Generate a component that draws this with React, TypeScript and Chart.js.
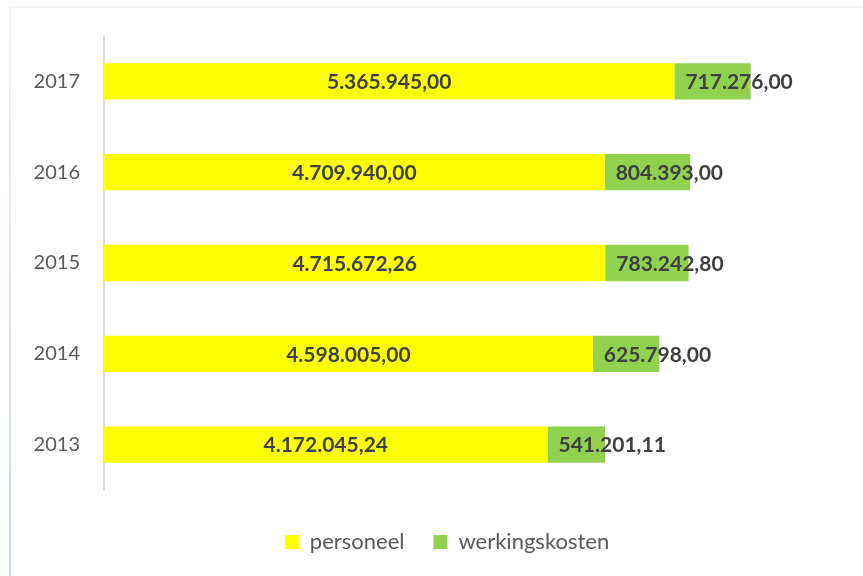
import React, { useEffect, useRef } from 'react';
import { Chart, registerables } from 'chart.js';

Chart.register(...registerables);

const years = ['2017', '2016', '2015', '2014', '2013'];
const personeel = [5365945.0, 4709940.0, 4715672.26, 4598005.0, 4172045.24];
const werkingskosten = [717276.0, 804393.0, 783242.8, 625798.0, 541201.11];
const seriesNames = ['personeel', 'werkingskosten'];
const xMax = 7140000;

const FONT = 'Lato, "Open Sans", sans-serif';

function fmt(v: number): string {
  const [i, d] = v.toFixed(2).split('.');
  return i.replace(/\B(?=(\d{3})+(?!\d))/g, '.') + ',' + d;
}

const labelPlugin = {
  id: 'barLabels',
  afterDatasetsDraw(chart: any) {
    const ctx = chart.ctx;
    ctx.save();
    ctx.font = `bold 21px ${FONT}`;
    ctx.fillStyle = '#404040';
    ctx.textBaseline = 'middle';
    chart.data.datasets.forEach((ds: any, di: number) => {
      const meta = chart.getDatasetMeta(di);
      meta.data.forEach((bar: any, i: number) => {
        const { x, y, base } = bar.getProps(['x', 'y', 'base'], true);
        const text = fmt(ds.data[i]);
        if (di === 0) {
          ctx.textAlign = 'center';
          ctx.fillText(text, (x + base) / 2, y + 1);
        } else {
          ctx.textAlign = 'left';
          ctx.fillText(text, base + 11, y + 1);
        }
      });
    });
    ctx.restore();
  },
};

export default function App() {
  const ref = useRef<HTMLCanvasElement | null>(null);

  useEffect(() => {
    document.body.style.margin = '0';
    const chart = new Chart(ref.current as HTMLCanvasElement, {
      type: 'bar',
      data: {
        labels: years,
        datasets: [
          {
            label: seriesNames[0],
            data: personeel,
            backgroundColor: '#FFFF00',
            borderWidth: 0,
            barPercentage: 0.4,
            categoryPercentage: 1,
          },
          {
            label: seriesNames[1],
            data: werkingskosten,
            backgroundColor: '#92D050',
            borderWidth: 0,
            barPercentage: 0.4,
            categoryPercentage: 1,
          },
        ],
      },
      options: {
        indexAxis: 'y',
        animation: false,
        responsive: false,
        maintainAspectRatio: false,
        layout: { padding: { top: 36, left: 31, right: 0, bottom: 13 } },
        scales: {
          x: {
            stacked: true,
            min: 0,
            max: xMax,
            display: true,
            grid: { display: false },
            border: { display: false },
            ticks: { display: false },
            afterFit: (s: any) => {
              s.height = 12;
            },
          },
          y: {
            stacked: true,
            grid: { display: false },
            border: { display: true, color: '#d9d9d9', width: 2 },
            ticks: {
              color: '#595959',
              font: { family: FONT, size: 20 },
              padding: 16,
            },
            afterFit: (s: any) => {
              s.width = 73;
            },
          },
        },
        plugins: {
          tooltip: { enabled: false },
          legend: {
            position: 'bottom',
            labels: {
              boxWidth: 14,
              boxHeight: 14,
              padding: 29,
              color: '#595959',
              font: { family: FONT, size: 22 },
            },
          },
        },
      },
      plugins: [labelPlugin],
    });
    return () => chart.destroy();
  }, []);

  return (
    <div style={{ position: 'fixed', left: 0, top: 0, width: 863, height: 576, background: '#fff' }}>
      <div
        style={{
          position: 'absolute',
          left: 9,
          top: 6,
          right: 0,
          height: 2,
          background: '#f3f3fa',
        }}
      />
      <div
        style={{
          position: 'absolute',
          left: 9,
          top: 6,
          width: 2,
          bottom: 0,
          background: 'linear-gradient(#f3f3fa, #c6d6f0)',
        }}
      />
      <canvas ref={ref} width={863} height={576} style={{ position: 'absolute', left: 0, top: 0 }} />
    </div>
  );
}
